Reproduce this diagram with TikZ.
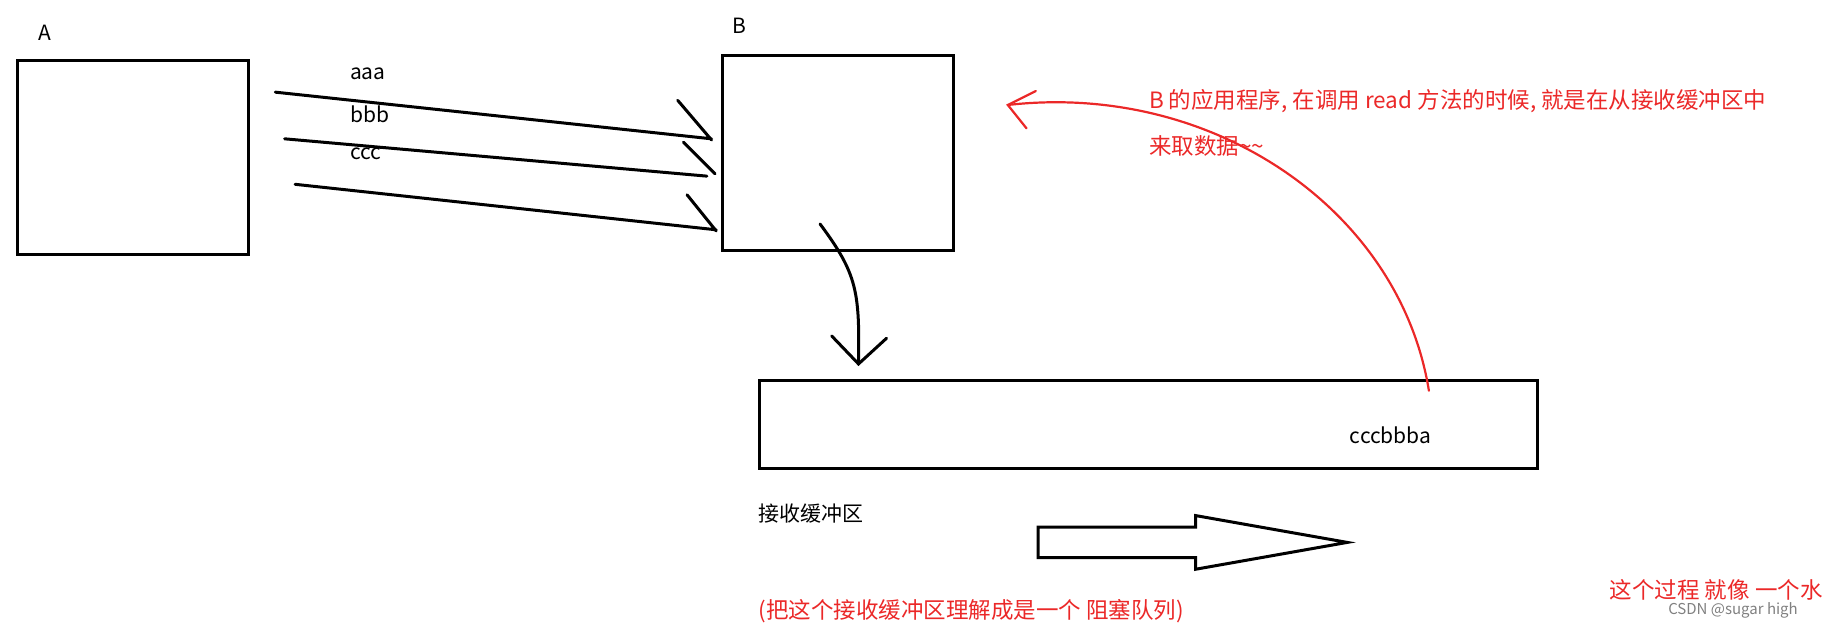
\documentclass[tikz,border=0pt]{standalone}
\usepackage{fontspec}
\setmainfont{Noto Sans CJK SC}
\definecolor{rd}{RGB}{235,40,40}
\begin{document}
\begin{tikzpicture}[x=1.1665pt,y=-1.1665pt,
  box/.style={draw,line width=3pt},
  ln/.style={line width=3pt,line cap=round},
  rl/.style={rd,line width=2.2pt,line cap=round},
  txt/.style={inner sep=0pt,anchor=west,font=\fontsize{21}{24}\selectfont},
  rtxt/.style={txt,text=rd,font=\fontsize{22.5}{26}\selectfont}]
\useasboundingbox (0,0) rectangle (1568,539.2);
\clip (0,0) rectangle (1568,539.2);
\node[txt] (la) at (33,28) {A};
\node[txt] (lb) at (628,22) {B};
\draw[box] (15,52) rectangle (213,218);
\draw[box] (619,48) rectangle (817,215);
\node[txt] (aaa) at (300,63) {aaa};
\node[txt] (bbb) at (300,98) {bbb};
\node[txt] (ccc) at (300,132) {ccc};
\draw[ln] (236,79) -- (610,119) (581,86) -- (610,120);
\draw[ln] (244,119) -- (606,151) (586,122) -- (613,149);
\draw[ln] (253,158) -- (614,197) (589,167) -- (614,198);
\draw[ln] (703,192) .. controls (735,235) and (737,250) .. (736,312);
\draw[ln] (713,288) -- (736,312) -- (760,290);
\draw[box] (651,326) rectangle (1318,402);
\node[txt] (q) at (1157,373) {cccbbba};
\node[txt] (rb) at (650,440) {接收缓冲区};
\draw[line width=3pt,line join=miter] (890,452) -- (1025,452) -- (1025,442) -- (1155,465) -- (1025,488) -- (1025,478) -- (890,478) -- cycle;
\node[rtxt] (n1) at (650,524) {(把这个接收缓冲区理解成是一个 阻塞队列)};
\node[rtxt] (n2) at (1380,506) {这个过程 就像 一个水};
\node[txt,text=gray,font=\fontsize{15}{17}\selectfont] (wm) at (1430,523) {CSDN @sugar high};
\draw[rl] (1225,335) .. controls (1200,180) and (1040,70) .. (864,90);
\draw[rl] (888,78) -- (864,90) -- (880,110);
\node[rtxt] (r1) at (985,87) {B 的应用程序, 在调用 read 方法的时候, 就是在从接收缓冲区中};
\node[rtxt] (r2) at (985,125) {来取数据\string~\string~};
\end{tikzpicture}
\end{document}
